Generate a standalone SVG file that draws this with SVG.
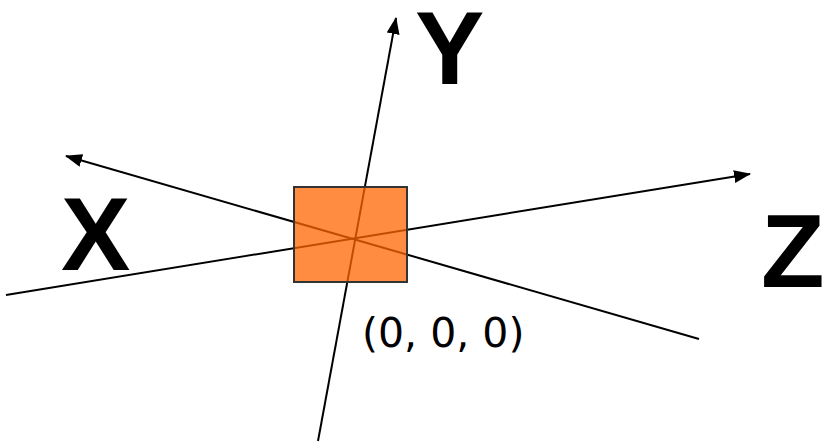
<svg xmlns="http://www.w3.org/2000/svg" width="823" height="445" viewBox="0 0 823 445">
<style>
.ax{stroke:#000;stroke-width:2;fill:none}
.big{font-family:"Liberation Sans",Arial,sans-serif;font-weight:bold;font-size:104px;fill:#000}
.lbl{font-family:"DejaVu Sans","Liberation Sans",sans-serif;font-size:41px;fill:#000}
</style>
<defs>
<marker id="ah" viewBox="0 0 17 13" refX="16" refY="6.5" markerWidth="17" markerHeight="13" markerUnits="userSpaceOnUse" orient="auto">
<path d="M0,0 L17,6.5 L0,13 Z" fill="#000"/>
</marker>
</defs>
<g id="connectors">
<line class="ax" x1="318" y1="441" x2="396" y2="18" marker-end="url(#ah)"/>
<line class="ax" x1="699" y1="339" x2="66" y2="156" marker-end="url(#ah)"/>
<line class="ax" x1="6" y1="295" x2="750" y2="174" marker-end="url(#ah)"/>
</g>
<g id="origin">
<rect x="294" y="187" width="113" height="95" fill="#FF6500" fill-opacity="0.75" stroke="#333" stroke-width="2"/>
</g>
<g id="labelY"><text class="big" x="415" y="84">Y</text></g>
<g id="labelX"><text class="big" x="61" y="270">X</text></g>
<g id="labelZ"><text class="big" x="761" y="287">Z</text></g>
<g id="labelOrigin"><text class="lbl" x="362" y="347">(0, 0, 0)</text></g>
</svg>
